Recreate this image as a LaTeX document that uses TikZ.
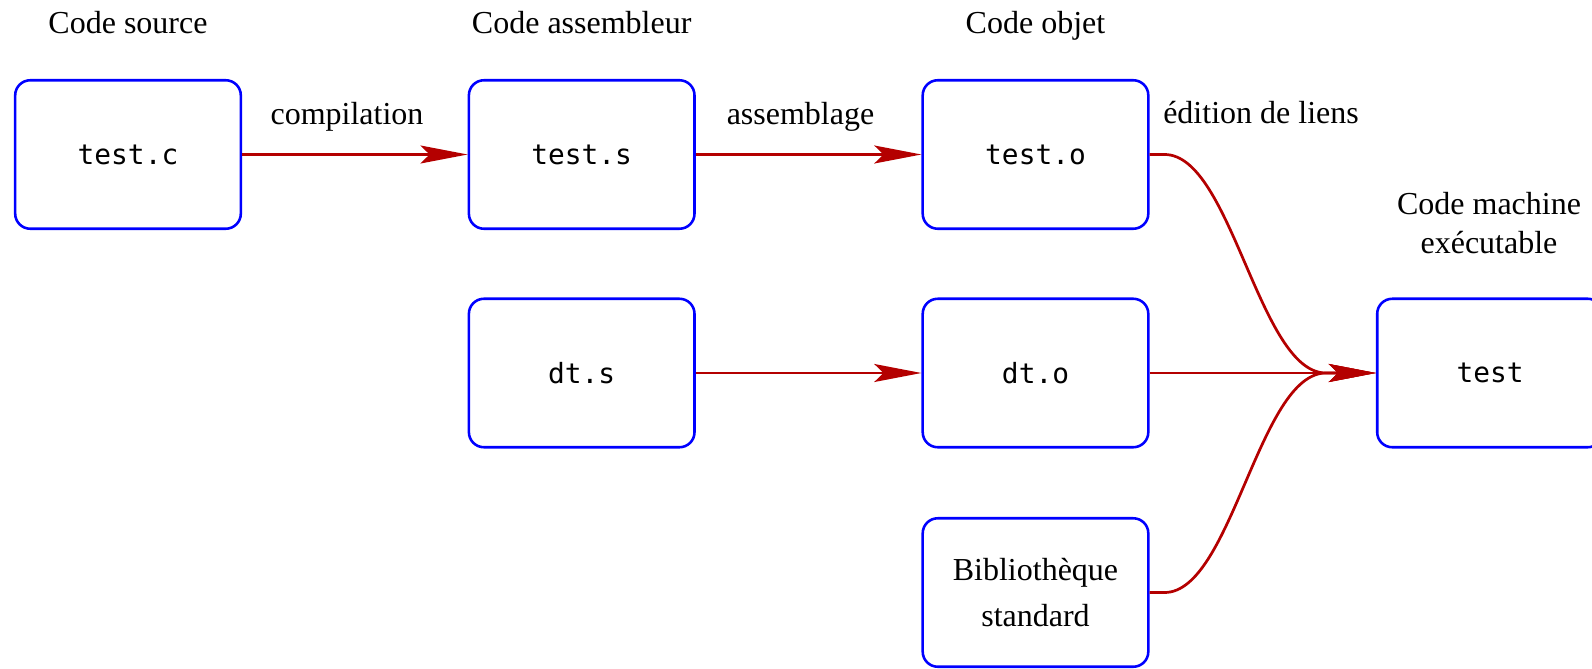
\documentclass[tikz,border=0pt]{standalone}
\usepackage{fontspec}
\setmainfont{Liberation Serif}
\newfontfamily\codefont{DejaVu Sans Mono}
\usetikzlibrary{arrows.meta,calc}

\definecolor{boxblue}{RGB}{0,0,255}
\definecolor{linkred}{RGB}{180,0,0}

\newcommand{\fname}[1]{{\codefont\fontsize{8.7pt}{10pt}\selectfont #1}}

\tikzset{
  filebox/.style={draw=boxblue, line width=0.8pt, rounded corners=4.7pt,
    minimum width=70.5pt, minimum height=46.4pt, align=center,
    font=\fontsize{10pt}{14.4pt}\selectfont},
  link/.style={draw=linkred, line width=0.85pt,
    -{Stealth[length=14.7pt,width=5.6pt,inset=2.8pt]}},
  caption/.style={anchor=base, inner sep=0pt, font=\fontsize{10pt}{12pt}\selectfont},
}

\begin{document}
\begin{tikzpicture}[x=0.3125pt, y=-0.3125pt]
  \useasboundingbox (0,0) rectangle (1592,669);

  % files
  \node[filebox] (tc)   at (128,154.5)  {\fname{test.c}};
  \node[filebox] (ts)   at (581.7,154.5) {\fname{test.s}};
  \node[filebox] (to)   at (1035.5,154.5) {\fname{test.o}};
  \node[filebox] (dts)  at (581.7,373)  {\fname{dt.s}};
  \node[filebox] (dto)  at (1035.5,373) {\fname{dt.o}};
  \node[filebox] (lib)  at (1035.5,592.5) {Bibliothèque\\standard};
  \node[filebox] (test) at (1490,373)   {\fname{test}};

  % column headings
  \node[caption] (hsrc) at (128,34)    {Code source};
  \node[caption] (hasm) at (581.7,34)  {Code assembleur};
  \node[caption] (hobj) at (1035.5,34) {Code objet};
  \node[caption] (hexe1) at (1489,215) {Code machine};
  \node[caption] (hexe2) at (1489,253) {exécutable};

  % step labels
  \node[caption] (lcomp) at (347,125)  {compilation};
  \node[caption] (lasm)  at (800.5,125) {assemblage};
  \node[caption] (llink) at (1261,124) {édition de liens};

  % translation steps
  \draw[link] (tc) -- (ts);
  \draw[link] (ts) -- (to);
  \draw[link] (dts) -- (dto);
  \draw[link] (dto) -- (test);

  % link edition: smooth S-curves into the executable
  \draw[link] (to.east) -- ++(15,0)
    .. controls +(67,0) and ($(test.west)+(-117,0)$) .. ($(test.west)+(-50,0)$)
    -- (test.west);
  \draw[link] (lib.east) -- ++(15,0)
    .. controls +(67,0) and ($(test.west)+(-117,0)$) .. ($(test.west)+(-50,0)$)
    -- (test.west);
\end{tikzpicture}
\end{document}
